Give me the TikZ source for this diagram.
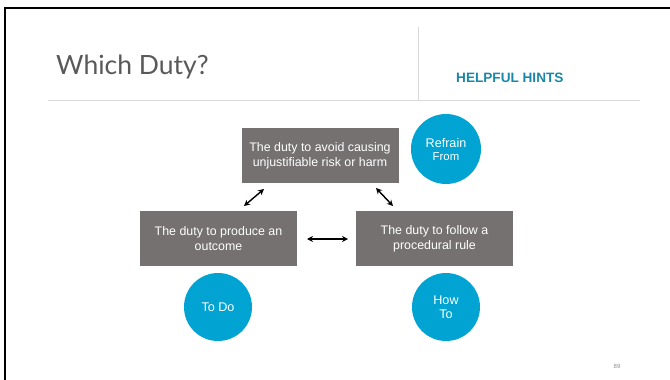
\documentclass[tikz,border=0pt]{standalone}
\usepackage{fontspec}
\setmainfont{Liberation Sans}
\newfontfamily\titlefont{Lato}
\usetikzlibrary{arrows.meta}

\definecolor{dutygray}{HTML}{767171}
\definecolor{hintblue}{HTML}{00A3D1}
\definecolor{hintteal}{HTML}{1A87A8}
\definecolor{rulegray}{HTML}{D9D9D9}

\tikzset{
  dutybox/.style={fill=dutygray, text=white, minimum width=157pt, minimum height=55pt,
    align=center, font=\fontsize{12.4}{15}\selectfont, inner sep=0pt},
  hintdot/.style={circle, fill=hintblue, text=white, minimum size=70pt, align=center,
    font=\fontsize{12.6}{14}\selectfont, inner sep=0pt},
  link/.style={<->, >={Stealth[length=6pt,width=6pt]}, line width=1.4pt}
}

\begin{document}
\begin{tikzpicture}[x=1pt, y=-1pt]

\useasboundingbox (0,0) rectangle (670,380);

% ==== SLIDE FRAME ====
\draw[line width=2pt] (4.5,380) -- (4.5,7.5) -- (670,7.5);
\draw[rulegray, line width=0.8pt] (48,100) -- (640,100);
\draw[rulegray, line width=0.8pt] (418,27) -- (418,100);

% ==== HEADINGS ====
\node[anchor=base west, inner sep=0pt, text=black!65, font=\titlefont\fontsize{26.5}{30}\selectfont]
  (title) at (56,74) {Which Duty?};
\node[anchor=base west, inner sep=0pt, text=hintteal, font=\bfseries\fontsize{13.6}{15}\selectfont]
  (hints) at (456,82) {HELPFUL HINTS};

% ==== DUTIES ====
\node[dutybox] (avoid) at (320,155.5) {The duty to avoid causing\\unjustifiable risk or harm};
\node[dutybox] (produce) at (218.5,238.5) {The duty to produce an\\outcome};
\node[dutybox] (follow) at (434.5,238.5) {The duty to follow a\\procedural rule};

% ==== HINTS ====
\node[hintdot] (refrain) at (446,149) {Refrain\\[-1pt]{\fontsize{11.4}{13}\selectfont From}};
\node[hintdot, minimum size=68pt] (todo) at (218,307) {To Do};
\node[hintdot, minimum size=68pt] (howto) at (446,307) {How\\To};

% ==== LINKS ====
\coordinate (a1) at (244,206);
\coordinate (a2) at (264,189);
\coordinate (b1) at (376,188);
\coordinate (b2) at (393,206);
\coordinate (c1) at (307,239);
\coordinate (c2) at (348,239);
\draw[link] (a1) -- (a2);
\draw[link] (b1) -- (b2);
\draw[link] (c1) -- (c2);

\node[text=black!45, font=\fontsize{6}{7}\selectfont, inner sep=0pt] (page) at (617,366) {89};

\end{tikzpicture}
\end{document}
